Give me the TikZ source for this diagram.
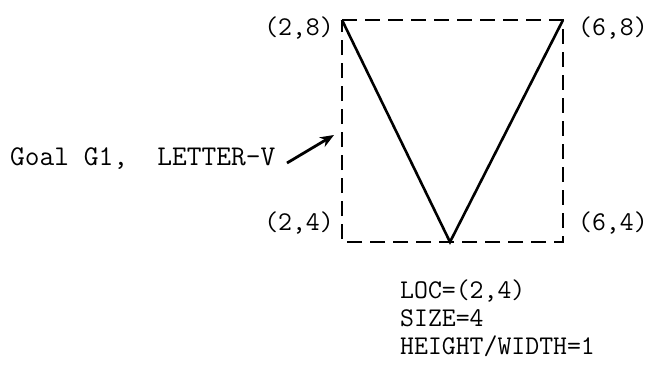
\documentclass[tikz,border=0pt]{standalone}
\usepackage{fontspec}
\usetikzlibrary{arrows.meta}
\begin{document}
\begin{tikzpicture}[x=1pt,y=-1pt,
  lbl/.style={font=\ttfamily\addfontfeature{FakeBold=1.2}\fontsize{27}{33}\selectfont, inner sep=0pt},
  goallbl/.style={font=\ttfamily\addfontfeature{FakeBold=1.2}\fontsize{28.6}{33}\selectfont, inner sep=0pt},
  boxline/.style={line width=2.8pt, dash pattern=on 15pt off 8pt},
  vline/.style={line width=2.6pt, line join=miter},
  pointer/.style={line width=2.8pt, -{Stealth[length=14pt,width=11pt]}}]
\useasboundingbox (0,0) rectangle (659,368);
\coordinate (tl) at (342,20);
\coordinate (tr) at (563,20);
\coordinate (bl) at (342,242);
\coordinate (br) at (563,242);
\coordinate (apex) at (450,242);
\draw[boxline] (tl) -- (tr) -- (br) -- (bl) -- cycle;
\draw[vline] (tl) -- (apex) -- (tr);
\node[lbl, anchor=east] (c28) at (334,28) {(2,8)};
\node[lbl, anchor=west] (c68) at (578,28) {(6,8)};
\node[lbl, anchor=east] (c24) at (334,223) {(2,4)};
\node[lbl, anchor=west] (c64) at (578,223) {(6,4)};
\node[goallbl, anchor=base west] (goal) at (10,165) {Goal G1, \ LETTER-V};
\coordinate (tail) at (287,163);
\coordinate (tip) at (334,135);
\draw[pointer] (tail) -- (tip);
\node[lbl, anchor=base west] (loc) at (400,298) {LOC=(2,4)};
\node[lbl, anchor=base west] (size) at (400,326) {SIZE=4};
\node[lbl, anchor=base west] (hw) at (400,354) {HEIGHT/WIDTH=1};
\end{tikzpicture}
\end{document}
